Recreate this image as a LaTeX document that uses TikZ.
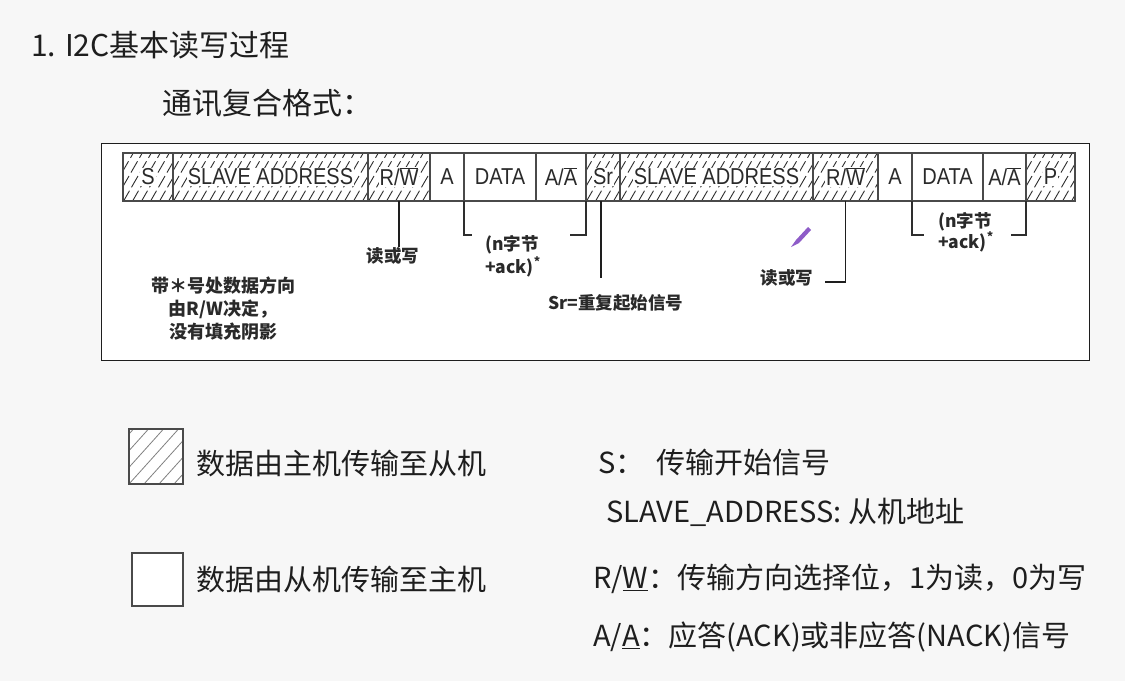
\documentclass[tikz,border=0pt]{standalone}
\usepackage{fontspec}
\setmainfont{Noto Sans CJK SC}
\newfontfamily\cellfont{Liberation Sans}[FakeStretch=0.87]
\usetikzlibrary{calc}

\definecolor{pagebg}{HTML}{F7F7F7}
\definecolor{ink}{HTML}{1E1E1E}
\definecolor{cellink}{HTML}{2A2A2A}
\definecolor{cellborder}{HTML}{4A4A4A}
\definecolor{hatchc}{HTML}{2E2E2E}
\definecolor{pencilc}{HTML}{8E5CC8}

% bar over a letter, e.g. R/W-bar
\newcommand{\ovl}[1]{$\overline{\mbox{#1}}$}
% label sitting on a white patch above the hatching
\newcommand{\lbl}[1]{{\setlength{\fboxsep}{1pt}\colorbox{white}{#1}}}

\begin{document}
\begin{tikzpicture}[x=1pt,y=-1pt,
  txt/.style={inner sep=0pt, text=ink},
  big/.style={txt, font=\fontsize{30}{36}\selectfont},
  leg/.style={txt, font=\fontsize{29}{34}\selectfont},
  ann/.style={inner sep=0pt, text=cellink, font=\bfseries\fontsize{17.5}{23}\selectfont},
  cell/.style={draw=cellborder, line width=1.2pt, fill=white, minimum height=48pt,
    inner sep=0pt, outer sep=0pt, anchor=north west, text=cellink,
    font=\cellfont\fontsize{23}{26}\selectfont},
  hatched/.style={cell, path picture={
    \foreach \k in {-36,-27,...,240}
      \draw[hatchc, line width=0.9pt, dash pattern=on 13pt off 4pt]
        ($(path picture bounding box.south west)+(\k pt,-1pt)$) -- ++(60:80pt);}},
  legbox/.style={draw=cellborder, line width=2pt, fill=white, inner sep=0pt},
  pointer/.style={draw=ink, line width=1.8pt},
  bracket/.style={draw=hatchc, line width=1.2pt}
]
\useasboundingbox[fill=pagebg] (0,0) rectangle (1125,681);

% headings
\node[big, anchor=west] (title) at (31,45) {1. I2C基本读写过程};
\node[big, anchor=west] (sub) at (162,103) {通讯复合格式：};

% frame around the message format
\node[draw=ink, line width=1.4pt, fill=white, minimum width=988pt, minimum height=217pt,
  inner sep=0pt, anchor=north west] (frame) at (101,143) {};

% the message fields
\node[hatched, minimum width=50pt]  (c1)  at (123,153)      {\lbl{S}};
\node[hatched, minimum width=195pt] (c2)  at (c1.north east) {\lbl{SLAVE ADDRESS}};
\node[hatched, minimum width=62pt]  (c3)  at (c2.north east) {\lbl{R/\ovl{W}}};
\node[cell,    minimum width=34pt]  (c4)  at (c3.north east) {A};
\node[cell,    minimum width=72pt]  (c5)  at (c4.north east) {DATA};
\node[cell,    minimum width=50pt]  (c6)  at (c5.north east) {A/\ovl{A}};
\node[hatched, minimum width=34pt]  (c7)  at (c6.north east) {\lbl{Sr}};
\node[hatched, minimum width=193pt] (c8)  at (c7.north east) {\lbl{SLAVE ADDRESS}};
\node[hatched, minimum width=65pt]  (c9)  at (c8.north east) {\lbl{R/\ovl{W}}};
\node[cell,    minimum width=34pt]  (c10) at (c9.north east) {A};
\node[cell,    minimum width=71pt]  (c11) at (c10.north east) {DATA};
\node[cell,    minimum width=43pt]  (c12) at (c11.north east) {A/\ovl{A}};
\node[hatched, minimum width=49pt]  (c13) at (c12.north east) {\lbl{P}};

% annotations under the fields
\node[ann] (rw1) at (393,256) {读或写};
\draw[pointer] (c3.south) -- (c3.south |- rw1.north);

\node[ann, align=left] (nb1) at (513,256) {(n字节\\+ack)\textsuperscript{*}};
\draw[bracket] (c5.south west) -- ++(0,34) -- ++(8,0);
\draw[bracket] (c6.south east) -- ++(0,34) -- ++(-16,0);

\coordinate (srend) at (601,278);
\draw[pointer] (c7.south -| srend) -- (srend);
\node[ann] (sr) at (616,303) {Sr=重复起始信号};

\node[ann] (rw2) at (787,278) {读或写};
\coordinate (rw2end) at (825,282);
\draw[pointer] (c9.south) |- (rw2end);

\node[ann, align=left, font=\bfseries\fontsize{17.5}{21}\selectfont] (nb2) at (966,232)
  {(n字节\\+ack)\textsuperscript{*}};
\draw[bracket] (c11.south west) -- ++(0,34) -- ++(12,0);
\draw[bracket] (c12.south east) -- ++(0,34) -- ++(-15,0);

\node[ann, align=center, font=\bfseries\fontsize{18}{23}\selectfont] (note) at (223,309)
  {带＊号处数据方向\\由R/W决定，\\没有填充阴影};

% small pencil mark
\fill[pencilc] (791,247) -- (796,240) -- (808,227) -- (811,230) -- (799,243) -- cycle;

% legend: direction of the data
\node[legbox, minimum width=54pt, minimum height=55pt, anchor=north west,
  path picture={
    \foreach \k in {-60,-45,...,60}
      \draw[gray, line width=0.8pt]
        ($(path picture bounding box.south west)+(\k pt,0pt)$) -- ++(48:100pt);}]
  (hbox) at (128,428) {};
\node[leg, anchor=west] (l1) at (196,463) {数据由主机传输至从机};

\node[legbox, minimum width=51pt, minimum height=53pt, anchor=north west]
  (wbox) at (131,552) {};
\node[leg, anchor=west] (l2) at (196,579) {数据由从机传输至主机};

% legend: meaning of the fields
\node[leg, anchor=west] (ls)  at (598,462) {S：\hspace{12pt}传输开始信号};
\node[leg, anchor=west] (lsa) at (606,512) {SLAVE\_ADDRESS: 从机地址};
\node[leg, anchor=west] (lrw) at (593,579) {R/\underline{W}：传输方向选择位，1为读，0为写};
\node[leg, anchor=west] (laa) at (593,637) {A/\underline{A}：应答(ACK)或非应答(NACK)信号};
\end{tikzpicture}
\end{document}
